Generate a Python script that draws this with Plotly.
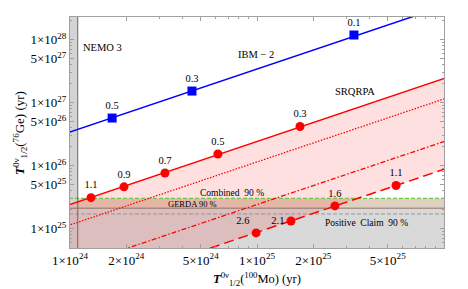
import numpy as np
import plotly.graph_objects as go

# ---------------- data ----------------
x_range = [1e24, 1e26]
y_range = [4.9e24, 2.28e28]

# IBM-2
ibm_mass = ["0.5", "0.3", "0.1"]
ibm_mo = [1.68e24, 4.49e24, 3.30e25]
ibm_ge = [5.67e26, 1.52e27, 1.18e28]
ibm_ratio = 340.0

# SRQRPA upper (solid)
srq_mass = ["1.1", "0.9", "0.7", "0.5", "0.3"]
srq_mo = [1.295e24, 1.944e24, 3.22e24, 6.18e24, 1.698e25]
srq_ge = [3.09e25, 4.59e25, 7.6e25, 1.52e26, 4.16e26]
srq_ratio_upper = 24.0
srq_ratio_dot = 11.4
srq_ratio_dashdot = 2.4
srq_ratio_lower = 0.87

# SRQRPA lower (dashed)
low_mass = ["2.6", "2.1", "1.6", "1.1"]
low_mo = [9.89e24, 1.52e25, 2.61e25, 5.54e25]
low_ge = [8.5e24, 1.315e25, 2.28e25, 4.82e25]
low_textpos = ["top left", "middle left", "top center", "top center"]

nemo3_limit = 1.1e24
combined_limit = 3.0e25
gerda_limit = 2.1e25
claim_line = 1.7e25

x_ticks = [1e24, 2e24, 5e24, 1e25, 2e25, 5e25]
x_ticktext = ["1×10<sup>24</sup>", "2×10<sup>24</sup>", "5×10<sup>24</sup>",
              "1×10<sup>25</sup>", "2×10<sup>25</sup>", "5×10<sup>25</sup>"]
y_ticks = [1e25, 5e25, 1e26, 5e26, 1e27, 5e27, 1e28]
y_ticktext = ["1×10<sup>25</sup>", "5×10<sup>25</sup>", "1×10<sup>26</sup>",
              "5×10<sup>26</sup>", "1×10<sup>27</sup>", "5×10<sup>27</sup>",
              "1×10<sup>28</sup>"]

FONT = "Liberation Serif"
far_lo, far_hi = 1e23, 1e29

fig = go.Figure()

def poly(xs, ys, color):
    fig.add_trace(go.Scatter(x=xs, y=ys, fill="toself", fillcolor=color,
                             mode="lines", line=dict(width=0), hoverinfo="skip",
                             showlegend=False))

def hline(yv, color, dash, width=1.0):
    fig.add_trace(go.Scatter(x=[far_lo, far_hi], y=[yv, yv], mode="lines",
                             line=dict(color=color, dash=dash, width=width),
                             hoverinfo="skip", showlegend=False))

def ratio_line(r, color, dash, width=1.5):
    xs = np.array([far_lo, far_hi])
    fig.add_trace(go.Scatter(x=xs, y=r * xs, mode="lines",
                             line=dict(color=color, dash=dash, width=width),
                             hoverinfo="skip", showlegend=False))

# bands
poly([far_lo, nemo3_limit, nemo3_limit, far_lo], [far_lo, far_lo, far_hi, far_hi], "rgb(212,212,212)")
poly([nemo3_limit, far_hi, far_hi, nemo3_limit], [far_lo, far_lo, gerda_limit, gerda_limit], "rgb(217,217,217)")
poly([nemo3_limit, far_hi, far_hi, nemo3_limit], [gerda_limit, gerda_limit, combined_limit, combined_limit], "rgb(224,208,192)")

# SRQRPA pink band
bx = np.array([far_lo, far_hi])
poly([bx[0], bx[1], bx[1], bx[0]],
     [srq_ratio_upper * bx[0], srq_ratio_upper * bx[1], srq_ratio_lower * bx[1], srq_ratio_lower * bx[0]],
     "rgba(255,0,0,0.12)")

hline(combined_limit, "rgb(110,200,70)", "4px,2px", 1.2)
hline(gerda_limit, "rgb(140,115,105)", "solid", 1.0)
hline(claim_line, "rgb(150,150,150)", "4px,2px", 1.0)

fig.add_trace(go.Scatter(x=[nemo3_limit, nemo3_limit], y=[far_lo, far_hi], mode="lines",
                         line=dict(color="rgb(110,100,95)", width=1.0),
                         hoverinfo="skip", showlegend=False))

ratio_line(srq_ratio_upper, "red", "solid", 1.5)
ratio_line(srq_ratio_dot, "red", "1.5px,1.5px", 1.3)
ratio_line(srq_ratio_dashdot, "red", "5px,2px,1.5px,2px", 1.3)
ratio_line(srq_ratio_lower, "red", "10px,5px", 1.5)
ratio_line(ibm_ratio, "blue", "solid", 1.5)

tf = dict(family=FONT, size=10.5, color="black")
fig.add_trace(go.Scatter(x=srq_mo, y=srq_ge, mode="markers+text", text=srq_mass,
                         textposition="top center", textfont=tf,
                         marker=dict(color="red", size=9, symbol="circle"),
                         hoverinfo="skip", showlegend=False))
fig.add_trace(go.Scatter(x=low_mo, y=low_ge, mode="markers+text", text=low_mass,
                         textposition=low_textpos, textfont=tf,
                         marker=dict(color="red", size=9, symbol="circle"),
                         hoverinfo="skip", showlegend=False))
fig.add_trace(go.Scatter(x=ibm_mo, y=ibm_ge, mode="markers+text", text=ibm_mass,
                         textposition="top center", textfont=tf,
                         marker=dict(color="blue", size=9, symbol="square"),
                         hoverinfo="skip", showlegend=False))

# page layout: browser body has an 8px margin, compensate for it
OFF = 8
L, R, T, B = 70 - OFF, 24, 17 - OFF, 41
W, H = 468 - OFF, 289 - OFF
pw, ph = W - L - R, H - T - B

def ann(text, px, py, size=10, angle=0):
    # px, py are page pixel coordinates
    fig.add_annotation(text=text, xref="paper", yref="paper",
                       x=(px - OFF - L) / pw, y=(H - B - (py - OFF)) / ph,
                       showarrow=False, textangle=angle,
                       font=dict(family=FONT, size=size, color="black"),
                       xanchor="center", yanchor="middle")

nb = "\u00a0"
ann("NEMO 3", 102, 47, 10.5)
ann("IBM − 2", 256, 54, 10.5)
ann("SRQRPA", 355, 91, 10.5)
ann("Combined" + nb * 2 + "90 %", 232, 193, 9.5)
ann("GERDA 90 %", 192, 204, 8.5)
ann("Positive" + nb * 2 + "Claim" + nb * 2 + "90 %", 366, 223, 9.5)
ann("<b><i>T</i></b><sup>0ν</sup><sub>1/2</sub>(<sup>100</sup>Mo) (yr)", 257, 278.5, 12.5)
ann("<b><i>T</i></b><sup>0ν</sup><sub>1/2</sub>(<sup>76</sup>Ge) (yr)", 20, 133, 13, -90)

def minor_vals(lo, hi):
    vals = []
    for e in range(lo, hi + 1):
        for m in range(1, 10):
            vals.append(m * 10.0 ** e)
    return vals

axis_common = dict(type="log", showgrid=False, zeroline=False, showline=True,
                   linecolor="#a0a0a0", linewidth=1, mirror="allticks",
                   ticks="inside", ticklen=4, tickcolor="#a0a0a0",
                   tickfont=dict(family=FONT, size=13, color="black"),
                   automargin=False)

fig.update_xaxes(range=[np.log10(x_range[0]), np.log10(x_range[1])],
                 tickmode="array", tickvals=x_ticks, ticktext=x_ticktext,
                 minor=dict(ticks="inside", ticklen=2, tickcolor="#a0a0a0",
                            tickmode="array", tickvals=minor_vals(23, 26)),
                 **axis_common)
fig.update_yaxes(range=[np.log10(y_range[0]), np.log10(y_range[1])],
                 tickmode="array", tickvals=y_ticks, ticktext=y_ticktext,
                 minor=dict(ticks="inside", ticklen=2, tickcolor="#a0a0a0",
                            tickmode="array", tickvals=minor_vals(24, 28)),
                 **axis_common)

fig.update_layout(width=W, height=H, margin=dict(l=L, r=R, t=T, b=B, pad=0),
                  plot_bgcolor="white", paper_bgcolor="white",
                  showlegend=False, font=dict(family=FONT))

fig.write_html("out.html")
